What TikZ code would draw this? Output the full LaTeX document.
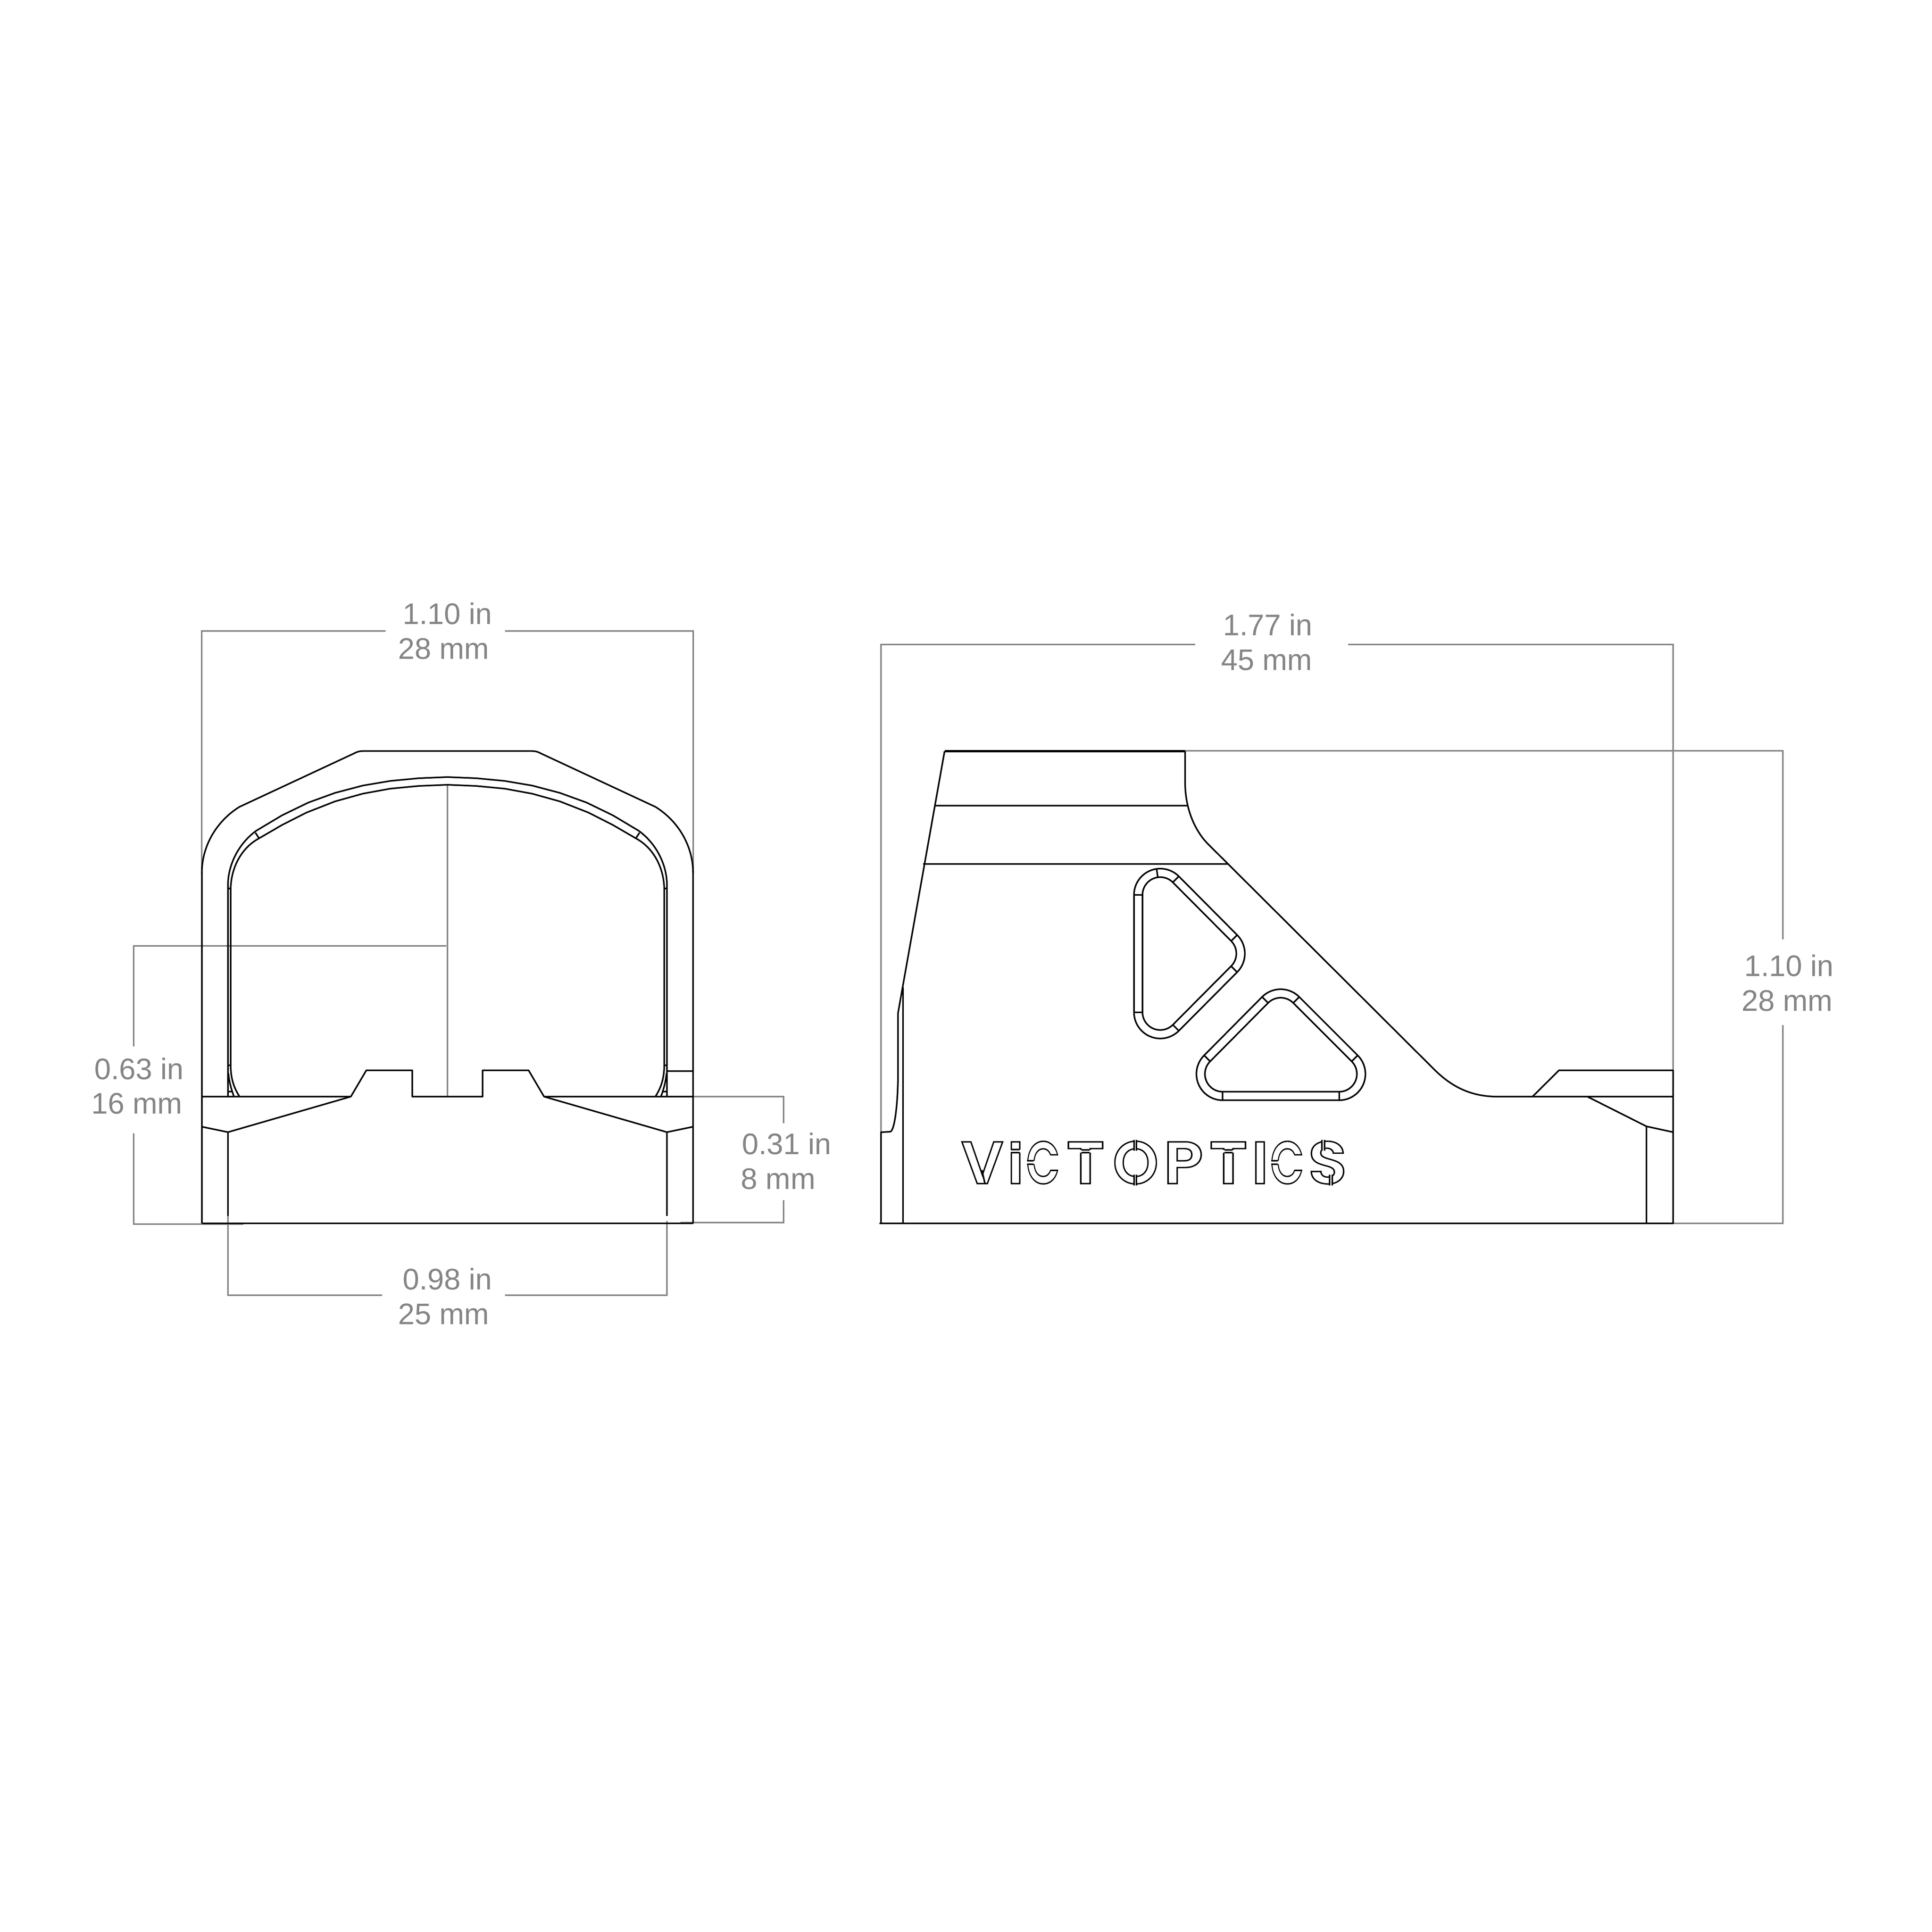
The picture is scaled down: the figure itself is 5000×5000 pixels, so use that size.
\documentclass[tikz,border=0pt]{standalone}
\usepackage{fontspec}
\usepackage{graphicx}
\setmainfont{Liberation Sans}
\newfontfamily\logofont{Poppins SemiBold}
\newcommand{\logoletter}[2]{\hbox to 0pt{\hss\scalebox{#1}[1]{#2}\hss}}
\definecolor{dimgray}{HTML}{858585}
\tikzset{
	ink/.style={line width=1.15pt,black,line join=round},
	dimline/.style={line width=1.15pt,dimgray},
	dimtext/.style={text=dimgray,inner sep=0pt,anchor=base,font=\fontsize{21.9}{26}\selectfont},
	pics/fronthalf/.style={
		code={%
			\draw[ink](522.5,3166)--(522.5,2258).. controls (522.5,2190) and (560,2125) .. (620,2088)--(918,1949).. controls (925,1945) and (932,1943.7) .. (939,1943.7)--(1158,1943.7);
			\draw[ink](590,2838)--(590,2287).. controls (591,2240) and (615,2185) .. (663,2150)--(730,2110)--(798,2077)--(867,2052)--(939,2033)--(1010,2021)--(1084,2014)--(1158,2011);
			\draw[ink](597,2757)--(597,2300).. controls (598,2245) and (625,2195) .. (668,2171)--(730,2135)--(793,2103)--(867,2074)--(939,2054)--(1010,2041)--(1084,2034)--(1158,2031);
			\draw[ink](597,2757).. controls (597,2790) and (605,2815) .. (620,2838);
			\draw[ink](591,2777).. controls (593,2800) and (599,2820) .. (605.5,2838);
			\draw[ink](661,2155)--(670,2169) (591,2299)--(597,2300) (591,2757)--(597,2757) (591,2825)--(600,2825);
			\draw[ink](522.5,2838)--(908,2838)--(948,2770)--(1067,2770)--(1067,2838)--(1158,2838);
			\draw[ink](908,2838)--(590,2930)--(522.5,2916);
			\draw[ink](590,2930)--(590,3147);
		}
	},
}
\begin{document}
\begin{tikzpicture}[x=.01cm,y=-.01cm]
	\useasboundingbox(0,0)rectangle(5000,5000);
	
	% front view, dimensions
	\draw[dimline](522,2260)--(522,1633)--(998,1633) (1307,1633)--(1794,1633)--(1794,2260);
	\node[dimtext](fronttopin)at(1158,1615){1.10 in};
	\node[dimtext](fronttopmm)at(1148,1705){28 mm};
	\draw[dimline](1155,2448)--(346,2448)--(346,2708) (346,2933)--(346,3168)--(630,3168);
	\draw[dimline](1158,2031)--(1158,2838);
	\node[dimtext](frontlowin)at(360,2793){0.63 in};
	\node[dimtext](frontlowmm)at(354,2882){16 mm};
	\draw[dimline](1794,2838)--(2028,2838)--(2028,2907) (2028,3106)--(2028,3164)--(1761,3164);
	\node[dimtext](railin)at(2036,2987){0.31 in};
	\node[dimtext](railmm)at(2014,3077){8 mm};
	\draw[dimline](590,3147)--(590,3352)--(989,3352) (1307,3352)--(1726,3352)--(1726,3160);
	\node[dimtext](basein)at(1158,3337){0.98 in};
	\node[dimtext](basemm)at(1148,3427){25 mm};
	
	% front view, body
	\pic at(0,0){fronthalf};
	\pic[xscale=-1] at(2316,0){fronthalf};
	\draw[ink](522.5,3166)--(1794,3166);
	\draw[ink](1727,2772)--(1794,2772);
	
	% side view, dimensions
	\draw[dimline](2280,2930)--(2280,1668)--(3093,1668) (3489,1668)--(4330,1668)--(4330,2770);
	\node[dimtext](sidelenin)at(3281,1644){1.77 in};
	\node[dimtext](sidelenmm)at(3278,1734){45 mm};
	\draw[dimline](3067,1943)--(4614,1943)--(4614,2431) (4614,2653)--(4614,3166)--(4330,3166);
	\node[dimtext](sidehighin)at(4630,2526){1.10 in};
	\node[dimtext](sidehighmm)at(4625,2616){28 mm};
	
	% side view, body
	\draw[ink](2276,3166)--(4330,3166)--(4330,2770)--(4034.5,2770)--(3966,2838);
	\draw[ink,line width=1.8pt](2444.6,1943.8)--(3067,1943.8);
	\draw[ink](2444.6,1943.8)--(2324,2622)--(2324,2779).. controls (2324,2850) and (2316,2929) .. (2303,2929)--(2280,2930)--(2280,3166);
	\draw[ink](2337,2555)--(2337,3166);
	\draw[ink](2421,2085)--(3073,2085) (2389,2236)--(3178,2236);
	\draw[ink](3067,1943.8)--(3067,2024).. controls (3067,2090) and (3090,2146) .. (3124,2182)--(3714,2770).. controls (3760,2815) and (3810,2838) .. (3875,2838)--(4330,2838);
	\draw[ink](4108,2838)--(4261,2915)--(4330,2930);
	\draw[ink](4261,2915)--(4261,3166);
	
	% slots
	\coordinate(slotAa)at(3002.7,2316);
	\coordinate(slotAb)at(3153.6,2467.8);
	\coordinate(slotAc)at(3002.7,2619.6);
	\coordinate(slotBa)at(3314.3,2628.1);
	\coordinate(slotBb)at(3465.6,2779.4);
	\coordinate(slotBc)at(3164.3,2779.4);
	\foreach \r in {68,46}{
		\draw[ink]([shift={(180:\r)}]slotAa)arc[start angle=180,end angle=315,radius=\r]--([shift={(315:\r)}]slotAb)arc[start angle=315,end angle=405,radius=\r]--([shift={(45:\r)}]slotAc)arc[start angle=45,end angle=180,radius=\r]--cycle;
		\draw[ink]([shift={(225:\r)}]slotBa)arc[start angle=225,end angle=315,radius=\r]--([shift={(315:\r)}]slotBb)arc[start angle=315,end angle=450,radius=\r]--([shift={(90:\r)}]slotBc)arc[start angle=90,end angle=225,radius=\r]--cycle;
	}
	\foreach \c/\a in {slotAa/180,slotAa/262,slotAa/315,slotAb/315,slotAb/45,slotAc/45,slotAc/180,slotBa/225,slotBa/315,slotBb/315,slotBb/90,slotBc/90,slotBc/225}{
		\draw[ink]([shift={(\a:46)}]\c)--([shift={(\a:68)}]\c);
	}
	
	% logo, with the stencil gaps cut into it
	\node[inner sep=0pt,anchor=base west](logo)at(2541.5,3063){\fontsize{44}{50}\logofont\special{pdf:code 1 Tr 1 w}%
		\logoletter{1}{V}\kern24.47pt\logoletter{1}{I}\kern20.2pt\logoletter{.73}{C}\kern31.3pt\logoletter{1.12}{T}\kern36.84pt\logoletter{.97}{O}\kern35.13pt\logoletter{1.09}{P}\kern33.14pt\logoletter{1.12}{T}\kern23.33pt\logoletter{1}{I}\kern19.9pt\logoletter{.73}{C}\kern29.73pt\logoletter{1.07}{S}\special{pdf:code 0 Tr}};
	\draw[ink](2541,3028)--(2549,3063);
	\foreach \xa/\xb/\ya/\yb in {2616/2639/2975/2983,2799/2820/2976/2983,3169/3190/2976/2983}{
		\fill[white](\xa-6,\ya)rectangle(\xb+6,\yb);
		\draw[ink](\xa,\ya)--(\xb,\ya) (\xa,\yb)--(\xb,\yb);
	}
	\foreach \xa/\xb/\ya/\yb in {2658/2675/3004/3013,3290/3307/3004/3013}{
		\fill[white](\xa-6,\ya)rectangle(\xb+6,\yb);
		\draw[ink](\xa,\ya)--(\xb,\ya) (\xa,\yb)--(\xb,\yb);
	}
	\foreach \xa/\xb/\ya/\yb in {2935/2941/2950/2978,2935/2941/3040/3068,3421/3428/2950/2978,3441/3448/3040/3068}{
		\fill[white](\xa,\ya-6)rectangle(\xb,\yb+6);
		\draw[ink](\xa,\ya)--(\xa,\yb) (\xb,\ya)--(\xb,\yb);
	}
\end{tikzpicture}
\end{document}
